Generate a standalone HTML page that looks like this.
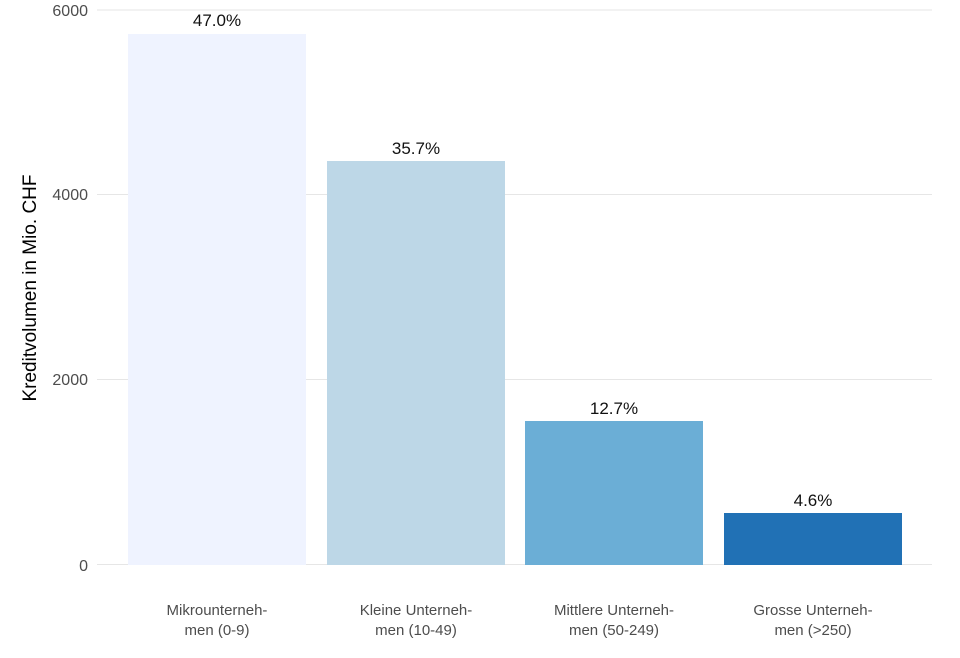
<!DOCTYPE html>
<html><head><style>body{margin:0;background:#fff}</style></head><body>
<svg width="960" height="653" xmlns="http://www.w3.org/2000/svg" font-family="Liberation Sans, sans-serif">
<g stroke="#e6e6e6" stroke-width="1">
<line x1="97" x2="932" y1="10" y2="10"/>
<line x1="97" x2="932" y1="194.5" y2="194.5"/>
<line x1="97" x2="932" y1="379.5" y2="379.5"/>
<line x1="97" x2="932" y1="564.5" y2="564.5"/>
</g>
<g font-size="16" fill="#4d4d4d" text-anchor="end">
<text x="88" y="16">6000</text>
<text x="88" y="200">4000</text>
<text x="88" y="385">2000</text>
<text x="88" y="571">0</text>
</g>
<text transform="translate(36,288) rotate(-90)" font-size="19" text-anchor="middle" fill="#000">Kreditvolumen in Mio. CHF</text>
<rect x="128" y="34" width="178" height="531" fill="#eff3ff"/>
<rect x="327" y="161" width="178" height="404" fill="#bdd7e7"/>
<rect x="525" y="421" width="178" height="144" fill="#6baed6"/>
<rect x="724" y="513" width="178" height="52" fill="#2171b5"/>
<g font-size="17" fill="#111" text-anchor="middle">
<text x="217" y="26">47.0%</text>
<text x="416" y="154">35.7%</text>
<text x="614" y="414">12.7%</text>
<text x="813" y="506">4.6%</text>
</g>
<g font-size="15" fill="#4d4d4d" text-anchor="middle">
<text x="217" y="615">Mikrounterneh-</text><text x="217" y="635">men (0-9)</text>
<text x="416" y="615">Kleine Unterneh-</text><text x="416" y="635">men (10-49)</text>
<text x="614" y="615">Mittlere Unterneh-</text><text x="614" y="635">men (50-249)</text>
<text x="813" y="615">Grosse Unterneh-</text><text x="813" y="635">men (&gt;250)</text>
</g>
</svg>
</body></html>
